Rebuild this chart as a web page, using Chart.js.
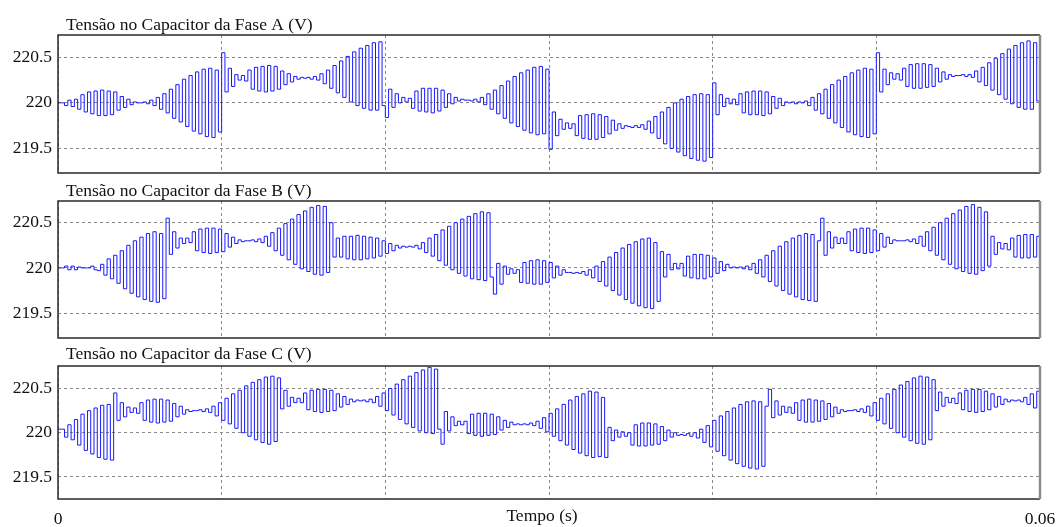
<!DOCTYPE html>
<html lang="pt">
<head>
<meta charset="utf-8">
<title>Tensão no Capacitor</title>
<script src="https://cdn.jsdelivr.net/npm/chart.js@4.4.1/dist/chart.umd.min.js"></script>
<style>
  html, body { margin: 0; padding: 0; background: #fff; }
  #page { position: relative; width: 1059px; height: 527px; overflow: hidden; }
  #page canvas { position: absolute; left: 0; }
</style>
</head>
<body>
<div id="page">
  <canvas id="faseA" width="1059" height="178" style="top:0px"></canvas>
  <canvas id="faseB" width="1059" height="165" style="top:178px"></canvas>
  <canvas id="faseC" width="1059" height="184" style="top:343px"></canvas>
</div>
<script>
// simulation output, one sample every 0.2 ms (sample-and-hold)
const sampleStep = 0.0002;
const xTicks = [0, 0.01, 0.02, 0.03, 0.04, 0.05, 0.06];
const yTicks = [219.5, 220, 220.5];
const titles = [
  'Tensão no Capacitor da Fase A (V)',
  'Tensão no Capacitor da Fase B (V)',
  'Tensão no Capacitor da Fase C (V)'
];
const xLabel = 'Tempo (s)';

const faseA = [
  220.00, 220.00, 219.97, 220.03, 219.96, 220.04, 219.93, 220.09, 219.90, 220.12,
  219.88, 220.13, 219.86, 220.14, 219.86, 220.13, 219.87, 220.12, 219.92, 220.07,
  219.95, 220.04, 219.98, 220.01, 220.00, 220.00, 220.01, 219.99, 220.03, 219.97,
  220.06, 219.93, 220.10, 219.89, 220.15, 219.83, 220.20, 219.79, 220.26, 219.74,
  220.30, 219.69, 220.34, 219.66, 220.37, 219.63, 220.38, 219.62, 220.36, 219.68,
  220.55, 220.12, 220.38, 220.18, 220.31, 220.25, 220.30, 220.24, 220.36, 220.15,
  220.39, 220.13, 220.40, 220.12, 220.41, 220.13, 220.40, 220.15, 220.35, 220.20,
  220.32, 220.23, 220.29, 220.26, 220.28, 220.27, 220.28, 220.26, 220.29, 220.25,
  220.32, 220.21, 220.36, 220.16, 220.41, 220.11, 220.46, 220.06, 220.51, 220.01,
  220.56, 219.97, 220.60, 219.94, 220.63, 219.92, 220.66, 219.92, 220.67, 219.97,
  219.84, 220.15, 219.95, 220.10, 220.00, 220.06, 220.01, 220.05, 219.94, 220.13,
  219.91, 220.16, 219.90, 220.16, 219.89, 220.16, 219.91, 220.14, 219.95, 220.10,
  219.99, 220.06, 220.02, 220.04, 220.03, 220.03, 220.02, 220.04, 220.01, 220.06,
  219.98, 220.10, 219.93, 220.14, 219.88, 220.19, 219.83, 220.24, 219.78, 220.29,
  219.74, 220.33, 219.70, 220.36, 219.67, 220.39, 219.65, 220.40, 219.66, 220.37,
  219.49, 219.90, 219.64, 219.82, 219.71, 219.78, 219.72, 219.77, 219.64, 219.86,
  219.61, 219.87, 219.60, 219.88, 219.60, 219.87, 219.62, 219.85, 219.66, 219.81,
  219.70, 219.77, 219.72, 219.75, 219.74, 219.73, 219.75, 219.73, 219.76, 219.71,
  219.80, 219.67, 219.85, 219.61, 219.90, 219.55, 219.95, 219.50, 220.00, 219.46,
  220.04, 219.42, 220.07, 219.39, 220.09, 219.37, 220.10, 219.36, 220.09, 219.40,
  220.22, 219.87, 220.09, 219.96, 220.05, 219.99, 220.04, 219.98, 220.10, 219.89,
  220.12, 219.87, 220.13, 219.87, 220.13, 219.86, 220.12, 219.88, 220.07, 219.94,
  220.05, 219.97, 220.01, 220.00, 220.01, 219.99, 220.01, 220.00, 220.02, 219.97,
  220.06, 219.92, 220.10, 219.88, 220.15, 219.83, 220.20, 219.78, 220.25, 219.73,
  220.29, 219.68, 220.33, 219.65, 220.36, 219.63, 220.38, 219.62, 220.37, 219.66,
  220.55, 220.12, 220.37, 220.20, 220.33, 220.26, 220.32, 220.25, 220.38, 220.18,
  220.42, 220.16, 220.43, 220.16, 220.43, 220.17, 220.42, 220.18, 220.38, 220.23,
  220.34, 220.26, 220.31, 220.29, 220.30, 220.30, 220.31, 220.29, 220.31, 220.28,
  220.35, 220.23, 220.39, 220.19, 220.44, 220.14, 220.49, 220.09, 220.54, 220.04,
  220.59, 219.99, 220.63, 219.95, 220.66, 219.93, 220.68, 219.93, 220.66, 220.02
];

const faseB = [
  220.00, 220.00, 220.02, 219.98, 220.02, 219.98, 220.01, 220.00, 220.00, 220.00,
  220.02, 219.98, 219.97, 220.04, 219.92, 220.10, 219.88, 220.14, 219.83, 220.19,
  219.77, 220.25, 219.72, 220.30, 219.68, 220.34, 219.65, 220.38, 219.63, 220.40,
  219.62, 220.38, 219.66, 220.55, 220.15, 220.40, 220.22, 220.33, 220.27, 220.33,
  220.28, 220.40, 220.19, 220.43, 220.17, 220.44, 220.16, 220.44, 220.17, 220.43,
  220.18, 220.38, 220.23, 220.34, 220.27, 220.31, 220.29, 220.30, 220.30, 220.31,
  220.29, 220.32, 220.28, 220.35, 220.24, 220.39, 220.19, 220.44, 220.14, 220.49,
  220.09, 220.54, 220.04, 220.59, 219.99, 220.63, 219.96, 220.67, 219.93, 220.69,
  219.92, 220.68, 219.95, 220.50, 220.12, 220.33, 220.12, 220.35, 220.10, 220.35,
  220.09, 220.36, 220.09, 220.35, 220.10, 220.34, 220.11, 220.33, 220.13, 220.30,
  220.16, 220.27, 220.19, 220.25, 220.22, 220.24, 220.23, 220.24, 220.23, 220.25,
  220.21, 220.28, 220.17, 220.33, 220.13, 220.37, 220.08, 220.42, 220.03, 220.46,
  219.98, 220.50, 219.94, 220.54, 219.91, 220.57, 219.88, 220.60, 219.87, 220.62,
  219.86, 220.61, 219.90, 219.71, 220.05, 219.82, 220.02, 219.93, 219.99, 219.94,
  219.98, 219.84, 220.06, 219.83, 220.08, 219.82, 220.09, 219.82, 220.08, 219.84,
  220.06, 219.89, 220.02, 219.92, 219.98, 219.95, 219.95, 219.94, 219.95, 219.94,
  219.96, 219.92, 219.98, 219.89, 220.02, 219.85, 220.07, 219.80, 220.12, 219.75,
  220.17, 219.70, 220.22, 219.65, 220.26, 219.61, 220.29, 219.58, 220.32, 219.56,
  220.33, 219.55, 220.28, 219.63, 220.18, 219.90, 220.15, 219.98, 220.05, 219.99,
  220.05, 219.91, 220.13, 219.89, 220.15, 219.88, 220.15, 219.88, 220.14, 219.90,
  220.11, 219.94, 220.07, 219.97, 220.04, 220.00, 220.01, 220.00, 220.01, 219.99,
  220.02, 219.98, 220.05, 219.94, 220.09, 219.90, 220.14, 219.85, 220.19, 219.80,
  220.24, 219.75, 220.29, 219.71, 220.33, 219.68, 220.36, 219.65, 220.38, 219.64,
  220.37, 219.63, 220.30, 220.55, 220.14, 220.40, 220.22, 220.34, 220.27, 220.33,
  220.27, 220.40, 220.19, 220.43, 220.17, 220.44, 220.16, 220.44, 220.17, 220.42,
  220.19, 220.38, 220.23, 220.34, 220.27, 220.31, 220.30, 220.30, 220.30, 220.31,
  220.29, 220.32, 220.27, 220.35, 220.24, 220.40, 220.19, 220.45, 220.14, 220.50,
  220.09, 220.55, 220.04, 220.60, 219.99, 220.64, 219.96, 220.68, 219.94, 220.70,
  219.93, 220.67, 219.97, 220.62, 220.02, 220.35, 220.15, 220.28, 220.21, 220.27,
  220.20, 220.33, 220.12, 220.36, 220.11, 220.37, 220.11, 220.37, 220.12, 220.35
];

const faseC = [
  220.04, 220.04, 219.95, 220.09, 219.92, 220.15, 219.86, 220.21, 219.80, 220.25,
  219.76, 220.28, 219.72, 220.31, 219.70, 220.32, 219.69, 220.45, 220.14, 220.34,
  220.18, 220.29, 220.23, 220.28, 220.22, 220.34, 220.14, 220.37, 220.12, 220.38,
  220.11, 220.38, 220.12, 220.37, 220.13, 220.33, 220.18, 220.30, 220.21, 220.26,
  220.24, 220.25, 220.25, 220.26, 220.24, 220.27, 220.23, 220.30, 220.19, 220.34,
  220.14, 220.39, 220.10, 220.44, 220.05, 220.48, 220.00, 220.53, 219.96, 220.57,
  219.92, 220.60, 219.89, 220.63, 219.87, 220.64, 219.90, 220.62, 220.27, 220.48,
  220.30, 220.40, 220.34, 220.39, 220.34, 220.45, 220.26, 220.48, 220.24, 220.49,
  220.23, 220.49, 220.24, 220.48, 220.25, 220.44, 220.29, 220.41, 220.32, 220.38,
  220.35, 220.37, 220.36, 220.37, 220.35, 220.38, 220.34, 220.41, 220.30, 220.45,
  220.25, 220.50, 220.20, 220.55, 220.15, 220.60, 220.10, 220.64, 220.06, 220.68,
  220.02, 220.71, 220.00, 220.74, 219.99, 220.72, 220.04, 219.87, 220.24, 220.02,
  220.18, 220.08, 220.13, 220.09, 220.13, 219.99, 220.21, 219.97, 220.22, 219.96,
  220.22, 219.97, 220.21, 219.98, 220.18, 220.03, 220.14, 220.06, 220.12, 220.09,
  220.10, 220.09, 220.10, 220.09, 220.11, 220.08, 220.13, 220.05, 220.17, 220.01,
  220.22, 219.96, 220.27, 219.91, 220.32, 219.86, 220.37, 219.81, 220.41, 219.77,
  220.44, 219.74, 220.47, 219.72, 220.46, 219.73, 220.40, 219.72, 220.06, 219.91,
  220.03, 219.95, 220.01, 219.96, 220.00, 219.86, 220.09, 219.85, 220.11, 219.85,
  220.11, 219.86, 220.10, 219.87, 220.07, 219.91, 220.03, 219.95, 220.00, 219.97,
  219.98, 219.97, 219.99, 219.96, 220.00, 219.94, 220.04, 219.89, 220.08, 219.84,
  220.14, 219.79, 220.19, 219.74, 220.24, 219.69, 220.28, 219.65, 220.32, 219.62,
  220.35, 219.60, 220.36, 219.59, 220.35, 219.62, 220.30, 220.49, 220.17, 220.36,
  220.20, 220.30, 220.23, 220.29, 220.22, 220.34, 220.14, 220.37, 220.12, 220.38,
  220.12, 220.37, 220.13, 220.36, 220.15, 220.33, 220.18, 220.29, 220.22, 220.26,
  220.24, 220.25, 220.25, 220.26, 220.24, 220.27, 220.23, 220.30, 220.19, 220.34,
  220.14, 220.39, 220.10, 220.44, 220.05, 220.49, 220.00, 220.54, 219.95, 220.58,
  219.91, 220.62, 219.88, 220.64, 219.87, 220.63, 219.92, 220.60, 220.25, 220.46,
  220.30, 220.40, 220.34, 220.39, 220.33, 220.45, 220.26, 220.48, 220.24, 220.49,
  220.23, 220.49, 220.24, 220.47, 220.26, 220.44, 220.29, 220.41, 220.32, 220.38,
  220.35, 220.37, 220.36, 220.37, 220.35, 220.40, 220.32, 220.44, 220.28, 220.47
];

const serif = '"Liberation Serif", "Times New Roman", serif';
const textColor = '#111';
Chart.defaults.font.family = serif;
Chart.defaults.font.size = 17.5;
Chart.defaults.color = textColor;

// frame around the plot area plus the panel caption
const panelFrame = {
  id: 'panelFrame',
  afterDraw(chart, args, opts) {
    const { ctx, chartArea: a } = chart;
    ctx.save();
    ctx.strokeStyle = '#2a2a2a';
    ctx.lineWidth = 1.5;
    ctx.beginPath();
    ctx.moveTo(a.right, a.top);
    ctx.lineTo(a.left, a.top);
    ctx.lineTo(a.left, a.bottom);
    ctx.lineTo(a.right, a.bottom);
    ctx.stroke();
    ctx.strokeStyle = '#8c8c8c';
    ctx.lineWidth = 2.5;
    ctx.beginPath();
    ctx.moveTo(a.right, a.top);
    ctx.lineTo(a.right, a.bottom);
    ctx.stroke();

    ctx.fillStyle = textColor;
    ctx.font = '17.5px ' + serif;
    ctx.textBaseline = 'alphabetic';
    ctx.textAlign = 'left';
    ctx.fillText(opts.title, 66, a.top - opts.titleGap);
    if (opts.xTitle) {
      ctx.textAlign = 'center';
      ctx.fillText(opts.xTitle, 542, chart.height - 6);
    }
    ctx.restore();
  }
};

function toPoints(values) {
  const pts = values.map((v, k) => ({ x: k * sampleStep, y: v }));
  // hold the last sample up to the end of the window
  pts.push({ x: xTicks[xTicks.length - 1], y: values[values.length - 1] });
  return pts;
}

// keep tick labels from pushing the plot area in
function noLabelPadding(axis) {
  axis.paddingLeft = 0;
  axis.paddingRight = 0;
  axis.paddingTop = 0;
  axis.paddingBottom = 0;
}

function makePanel(id, values, title, { top, bottom, yMin, yMax, titleGap, showX }) {
  return new Chart(document.getElementById(id), {
    type: 'line',
    data: {
      datasets: [{
        data: toPoints(values),
        borderColor: 'rgb(25, 25, 255)',
        borderWidth: 1,
        pointRadius: 0,
        stepped: true,
        fill: false
      }]
    },
    options: {
      responsive: false,
      animation: false,
      devicePixelRatio: 1,
      events: [],
      layout: { padding: { left: 0, right: 19, top, bottom } },
      plugins: {
        legend: { display: false },
        tooltip: { enabled: false },
        panelFrame: { title, titleGap, xTitle: showX ? xLabel : null }
      },
      scales: {
        x: {
          type: 'linear',
          min: xTicks[0],
          max: xTicks[xTicks.length - 1],
          afterBuildTicks: (axis) => { axis.ticks = xTicks.map((value) => ({ value })); },
          afterFit: (axis) => {
            axis.height = showX ? 28 : 0;
            noLabelPadding(axis);
          },
          grid: { color: '#8a8a8a', lineWidth: 1, drawTicks: false },
          border: { display: false, dash: [3, 3] },
          ticks: {
            display: showX,
            padding: 9.5,
            maxRotation: 0,
            autoSkip: false,
            callback: (v, i, ticks) => (i === 0 || i === ticks.length - 1) ? String(v) : ''
          }
        },
        y: {
          min: yMin,
          max: yMax,
          afterBuildTicks: (axis) => { axis.ticks = yTicks.map((value) => ({ value })); },
          afterFit: (axis) => {
            axis.width = 58;
            noLabelPadding(axis);
          },
          grid: { color: '#8a8a8a', lineWidth: 1, drawTicks: false },
          border: { display: false, dash: [3, 3] },
          ticks: { padding: 6, callback: (v) => String(v) }
        }
      }
    },
    plugins: [panelFrame]
  });
}

makePanel('faseA', faseA, titles[0], { top: 35, bottom: 5, yMin: 219.23, yMax: 220.745, titleGap: 5.5, showX: false });
makePanel('faseB', faseB, titles[1], { top: 23, bottom: 5, yMin: 219.225, yMax: 220.74, titleGap: 5.5, showX: false });
makePanel('faseC', faseC, titles[2], { top: 23, bottom: 0, yMin: 219.25, yMax: 220.755, titleGap: 7, showX: true });
</script>
</body>
</html>
